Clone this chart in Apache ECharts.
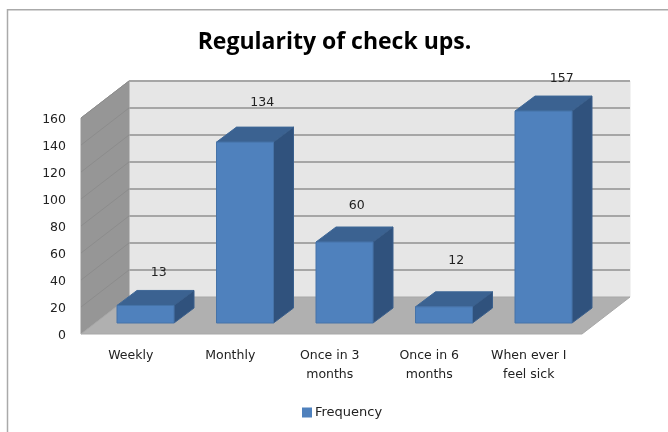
<!DOCTYPE html>
<html>
<head>
<meta charset="utf-8">
<title>Regularity of check ups.</title>
<script src="https://cdn.jsdelivr.net/npm/echarts@6/dist/echarts.min.js"></script>
<style>
html, body { margin: 0; padding: 0; background: #fff; }
#chart { width: 668px; height: 432px; }
</style>
</head>
<body>
<div id="chart"></div>
<script>
var categories = ['Weekly', 'Monthly', 'Once in 3\nmonths', 'Once in 6\nmonths', 'When ever I\nfeel sick'];
var frequency = [13, 134, 60, 12, 157];
var yTicks = [0, 20, 40, 60, 80, 100, 120, 140, 160];

// the value labels were dragged by hand in the original, so each has its own nudge
var labelNudge = [[28, -44], [32, -50], [27, -47], [27, -57], [33, -43]];

var fontName = '"DejaVu Sans", sans-serif';
var wallDepth = [48, -37];   // front of floor to back of floor
var wallExtra = 3.5;         // floor runs a little past the last category band
var barShift = [14.75, -11]; // bars stand part way into the floor
var barDepth = [20, -15];
var barWidth = 57;

function poly(points, fill, stroke) {
  return {
    type: 'polygon',
    shape: { points: points },
    style: { fill: fill, stroke: stroke || fill, lineWidth: 1 }
  };
}

function renderWalls(params, api) {
  var sys = params.coordSys;
  var x0 = sys.x, x1 = sys.x + sys.width + wallExtra;
  var yBase = api.coord([0, 0])[1];
  var yTop = api.coord([0, 160])[1];
  var dx = wallDepth[0], dy = wallDepth[1];
  var children = [
    poly([[x0 + dx, yTop + dy], [x1 + dx, yTop + dy], [x1 + dx, yBase + dy], [x0 + dx, yBase + dy]], '#e6e6e6'),
    poly([[x0, yTop], [x0 + dx, yTop + dy], [x0 + dx, yBase + dy], [x0, yBase]], '#969696'),
    poly([[x0, yBase], [x0 + dx, yBase + dy], [x1 + dx, yBase + dy], [x1, yBase]], '#b0b0b0', '#a8a8a8')
  ];
  yTicks.forEach(function (t) {
    if (t === 0) return;
    var y = api.coord([0, t])[1];
    children.push({
      type: 'line',
      shape: { x1: x0 + dx, y1: y + dy, x2: x1 + dx, y2: y + dy },
      style: { stroke: '#a6a6a6', lineWidth: 2 }
    });
    children.push({
      type: 'line',
      shape: { x1: x0, y1: y, x2: x0 + dx, y2: y + dy },
      style: { stroke: '#8c8c8c', lineWidth: 1 }
    });
  });
  return { type: 'group', children: children };
}

function renderBar(params, api) {
  var i = api.value(0);
  var v = api.value(1);
  var top = api.coord([i, v]);
  var base = api.coord([i, 0]);
  var l = top[0] + barShift[0] - barWidth / 2;
  var r = l + barWidth;
  var t = top[1] + barShift[1];
  var b = base[1] + barShift[1];
  var dx = barDepth[0], dy = barDepth[1];
  return {
    type: 'group',
    children: [
      poly([[l, t], [l + dx, t + dy], [r + dx, t + dy], [r, t]], '#3b6291', '#3f6897'),
      poly([[r, t], [r + dx, t + dy], [r + dx, b + dy], [r, b]], '#30527d', '#3a5f8c'),
      poly([[l, t], [r, t], [r, b], [l, b]], '#4f81bd', '#4673a8'),
      {
        type: 'text',
        style: {
          text: String(v),
          x: top[0] + labelNudge[i][0],
          y: top[1] + labelNudge[i][1],
          align: 'center',
          verticalAlign: 'middle',
          fill: '#222',
          font: '12.5px ' + fontName
        }
      }
    ]
  };
}

var chart = echarts.init(document.getElementById('chart'));
chart.setOption({
  animation: false,
  backgroundColor: '#fff',
  title: {
    text: 'Regularity of check ups.',
    left: 329.5,
    top: 37,
    textAlign: 'center',
    textVerticalAlign: 'middle',
    textStyle: { color: '#000', fontFamily: '"Open Sans", sans-serif', fontWeight: 'bold', fontSize: 23 }
  },
  legend: {
    data: ['Frequency'],
    icon: 'rect',
    left: 297,
    top: 401,
    itemWidth: 10,
    itemHeight: 10,
    textStyle: { color: '#222', fontFamily: fontName, fontSize: 13, padding: [0, 0, 0, -2] }
  },
  grid: { left: 81, top: 118, width: 497.5, height: 216 },
  xAxis: {
    type: 'category',
    data: categories,
    axisLine: { show: false },
    axisTick: { show: false },
    axisLabel: { color: '#222', fontFamily: fontName, fontSize: 12.5, lineHeight: 19, margin: 12, interval: 0 }
  },
  yAxis: {
    type: 'value',
    min: 0,
    max: 160,
    interval: 20,
    axisLine: { show: false },
    axisTick: { show: false },
    splitLine: { show: false },
    // top-aligned with a short line box: sits the digits just under each tick
    axisLabel: { color: '#222', fontFamily: fontName, fontSize: 12.5, margin: 15, verticalAlign: 'top', lineHeight: 4 }
  },
  graphic: [{
    type: 'polyline',
    silent: true,
    shape: { points: [[7.5, 432], [7.5, 9.75], [668, 9.75]] },
    style: { stroke: '#aaaaaa', lineWidth: 1.5, fill: null }
  }],
  series: [
    {
      type: 'custom',
      name: 'walls',
      z: 1,
      clip: false,
      silent: true,
      renderItem: renderWalls,
      data: [[0, 0]]
    },
    {
      type: 'custom',
      name: 'Frequency',
      z: 2,
      clip: false,
      itemStyle: { color: '#4f81bd', borderColor: '#4673a8' },
      renderItem: renderBar,
      encode: { x: 0, y: 1 },
      data: frequency.map(function (v, i) { return [i, v]; })
    }
  ]
});
</script>
</body>
</html>
